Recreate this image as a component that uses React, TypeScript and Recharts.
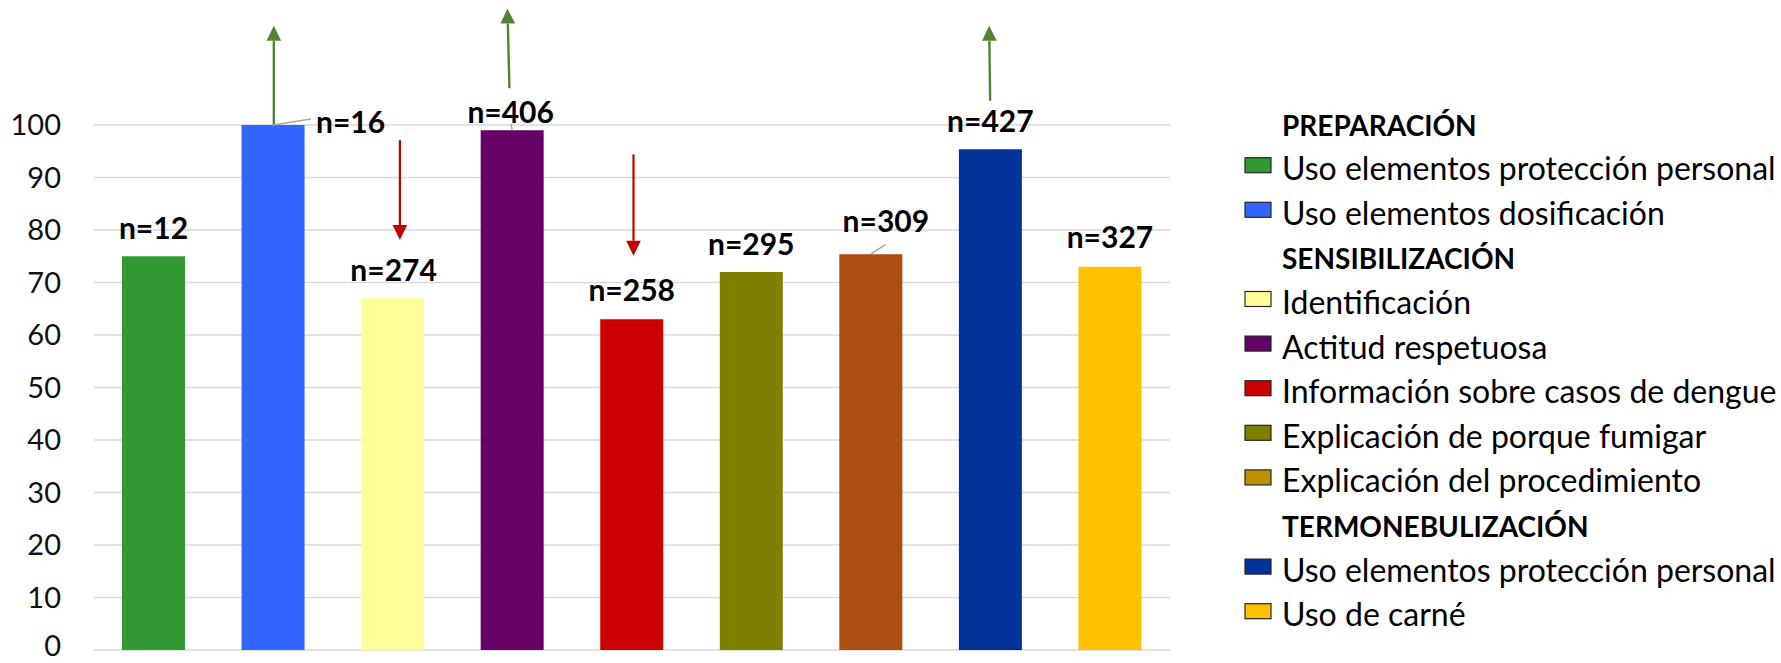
import React from 'react';
import {
  BarChart,
  Bar,
  XAxis,
  YAxis,
  CartesianGrid,
  Cell,
  LabelList,
  ReferenceLine,
  Legend,
} from 'recharts';

// ---------- data ----------
const categoryIds = ['P1', 'P2', 'S1', 'S2', 'S3', 'S4', 'S5', 'T1', 'T2'];
const percentValues = [75, 100, 67, 99, 63, 72, 75.4, 95.4, 73];
const sampleLabels = ['n=12', 'n=16', 'n=274', 'n=406', 'n=258', 'n=295', 'n=309', 'n=427', 'n=327'];
const legendNames = [
  'Uso elementos protección personal',
  'Uso elementos dosificación',
  'Identificación',
  'Actitud respetuosa',
  'Información sobre casos de dengue',
  'Explicación de porque fumigar',
  'Explicación del procedimiento',
  'Uso elementos protección personal',
  'Uso de carné',
];
const groupHeaders = ['PREPARACIÓN', 'SENSIBILIZACIÓN', 'TERMONEBULIZACIÓN'];
const groupOfItem = [0, 0, 1, 1, 1, 1, 1, 2, 2];
const yTicks = [0, 10, 20, 30, 40, 50, 60, 70, 80, 90, 100];

// annotation arrows (values in chart units)
const upArrows = [
  { cat: 'P2', from: 100, to: 118.9 },
  { cat: 'S2', from: 107, to: 122.2 },
  { cat: 'T1', from: 104.6, to: 118.9 },
];
const downArrows = [
  { cat: 'S1', from: 97.1, to: 78.1 },
  { cat: 'S3', from: 94.4, to: 75.1 },
];

// ---------- styles ----------
const barColors = ['#339933', '#3366FF', '#FFFF99', '#660066', '#CC0000', '#808000', '#AE4D12', '#003399', '#FFC000'];
const legendColors = ['#339933', '#3366FF', '#FFFF99', '#660066', '#CC0000', '#808000', '#BF9000', '#003399', '#FFC000'];
const upColor = '#548235';
const downColor = '#C00000';
const FONT = 'Lato, "Open Sans", sans-serif';

// small horizontal nudges of the arrows (style only): [start dx, end dx]
const upArrowNudge = [
  [0.5, 0.5],
  [-3, -5],
  [-0.5, -1.5],
];
const downArrowNudge = [
  [7, 7],
  [1.5, 1.5],
];

// label placement tweaks (style only)
const labelStyle = [
  { dx: 0, dy: -17, anchor: 'middle' },
  { dx: 43, dy: 7.5, anchor: 'start', leader: [0, 0, 38, -6] },
  { dx: 1, dy: -17.3, anchor: 'middle' },
  { dx: -1.5, dy: -7.7, anchor: 'middle', leader: [-1, -6, 0, 0] },
  { dx: 0, dy: -18.3, anchor: 'middle' },
  { dx: 0, dy: -17, anchor: 'middle' },
  { dx: 15, dy: -22.3, anchor: 'middle', leader: [0, 0, 14.5, -9.5] },
  { dx: 0, dy: -17.6, anchor: 'middle' },
  { dx: 0, dy: -18.4, anchor: 'middle' },
];

const data = categoryIds.map((id, i) => ({ id, value: percentValues[i], n: sampleLabels[i] }));

const makeArrow = (color: string, width: number, nudge: number[]) => (props: any) => {
  const { y1, y2 } = props;
  const x1 = props.x1 + nudge[0];
  const x2 = props.x2 + nudge[1];
  if ([x1, y1, x2, y2].some((v) => typeof v !== 'number' || isNaN(v))) return <g />;
  const dir = y2 < y1 ? -1 : 1; // -1 up, 1 down
  const headLen = 15;
  const halfW = 7.3;
  const baseY = y2 - dir * headLen;
  const t = (baseY - y1) / (y2 - y1);
  const baseX = x1 + (x2 - x1) * t;
  return (
    <g>
      <line x1={x1} y1={y1} x2={baseX} y2={baseY} stroke={color} strokeWidth={width} />
      <polygon points={`${baseX - halfW},${baseY} ${baseX + halfW},${baseY} ${x2},${y2}`} fill={color} />
    </g>
  );
};

const renderLabel = (props: any) => {
  const vb = props.viewBox || {};
  const x = typeof props.x === 'number' ? props.x : vb.x;
  const y = typeof props.y === 'number' ? props.y : vb.y;
  const width = typeof props.width === 'number' ? props.width : vb.width;
  const index = props.index;
  const st = labelStyle[index] || labelStyle[0];
  const cx = x + width / 2;
  const tx = cx + st.dx;
  return (
    <g>
      {st.leader && (
        <line
          x1={cx + st.leader[0]}
          y1={y + st.leader[1]}
          x2={cx + st.leader[2]}
          y2={y + st.leader[3]}
          stroke="#A6A6A6"
          strokeWidth={1.3}
        />
      )}
      <text
        x={tx}
        y={y + st.dy}
        textAnchor={st.anchor as any}
        fontFamily={FONT}
        fontWeight={700}
        fontSize={30}
        fill="#000"
      >
        {props.value}
      </text>
    </g>
  );
};

// y tick: right-aligned, vertically centred on the gridline; the bottom one kept inside the picture
const renderYTick = (props: any) => {
  const { x, y, payload } = props;
  const baseline = Math.min(y + 10.3, 656);
  return (
    <text x={x} y={baseline} textAnchor="end" fontFamily={FONT} fontSize={29} fill="#111">
      {payload.value}
    </text>
  );
};

const LegendBox = () => {
  const rows: { type: 'header' | 'item'; text: string; color?: string }[] = [];
  let lastGroup = -1;
  legendNames.forEach((name, i) => {
    if (groupOfItem[i] !== lastGroup) {
      lastGroup = groupOfItem[i];
      rows.push({ type: 'header', text: groupHeaders[lastGroup] });
    }
    rows.push({ type: 'item', text: name, color: legendColors[i] });
  });
  const rowGap = 44.6;
  const firstBaseline = 39.6;
  return (
    <svg width={545} height={560} style={{ display: 'block', overflow: 'visible' }}>
      {rows.map((r, i) => {
        const by = firstBaseline + i * rowGap;
        if (r.type === 'header') {
          return (
            <text key={i} x={46} y={by} fontFamily={FONT} fontWeight={700} fontSize={28} fill="#000">
              {r.text}
            </text>
          );
        }
        return (
          <g key={i}>
            <rect x={9} y={by - 22.5} width={26} height={15} fill={r.color} stroke="#262626" strokeWidth={1.2} />
            <text x={46} y={by} fontFamily={FONT} fontSize={32} fill="#000">
              {r.text}
            </text>
          </g>
        );
      })}
    </svg>
  );
};

export default function App() {
  return (
    <div style={{ position: 'absolute', left: 0, top: 0, width: 1781, height: 663, background: '#fff' }}>
      <BarChart
        width={1781}
        height={663}
        data={data}
        margin={{ top: 125, right: 611, bottom: 13, left: 0 }}
        barSize={63}
      >
        <CartesianGrid vertical={false} stroke="#D9D9D9" strokeWidth={1.5} />
        <XAxis dataKey="id" hide />
        <YAxis
          type="number"
          domain={[0, 100]}
          ticks={yTicks}
          interval={0}
          width={94}
          axisLine={false}
          tickLine={false}
          tickSize={0}
          tickMargin={33}
          tick={renderYTick}
        />
        <Bar dataKey="value" isAnimationActive={false}>
          {data.map((d, i) => (
            <Cell key={d.id} fill={barColors[i]} />
          ))}
          <LabelList dataKey="n" content={renderLabel} />
        </Bar>
        {upArrows.map((a, i) => (
          <ReferenceLine
            key={'u' + i}
            ifOverflow="visible"
            segment={[
              { x: a.cat, y: a.from },
              { x: a.cat, y: a.to },
            ]}
            shape={makeArrow(upColor, 2.4, upArrowNudge[i])}
          />
        ))}
        {downArrows.map((a, i) => (
          <ReferenceLine
            key={'d' + i}
            ifOverflow="visible"
            segment={[
              { x: a.cat, y: a.from },
              { x: a.cat, y: a.to },
            ]}
            shape={makeArrow(downColor, 2.2, downArrowNudge[i])}
          />
        ))}
        <Legend
          layout="vertical"
          align="center"
          verticalAlign="middle"
          content={() => <LegendBox />}
          wrapperStyle={{ left: 1236, top: 96, width: 545, height: 560 }}
        />
      </BarChart>
    </div>
  );
}
